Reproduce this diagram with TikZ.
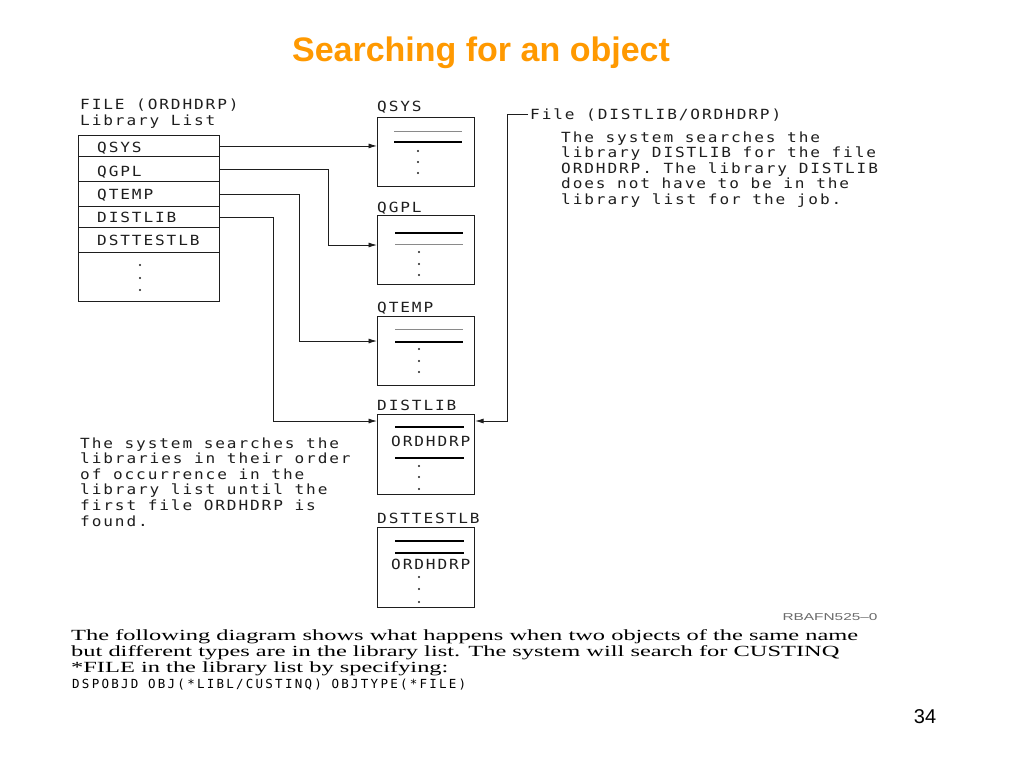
\documentclass[tikz,border=0pt]{standalone}
\usepackage{fontspec}
\usepackage{graphicx}
\setmainfont{Liberation Serif}
\newfontfamily\monof[FakeStretch=1.15,LetterSpace=13.5]{DejaVu Sans Mono}
\newfontfamily\codef[LetterSpace=18]{DejaVu Sans Mono}
\newfontfamily\sansf{Liberation Sans}
\usetikzlibrary{arrows.meta,calc}
\definecolor{ttl}{HTML}{FF9900}
\definecolor{ink}{HTML}{1E1E1E}
\definecolor{thin}{HTML}{8A8A8A}
\definecolor{tag}{HTML}{6A6A6A}
\newlength\Lw
\newsavebox\measbox
\begin{document}
\sbox\measbox{\fontsize{15.5}{16}\selectfont The following diagram shows what happens when two objects of the same name}%
\setlength\Lw{\wd\measbox}%
\pgfmathsetmacro\sx{787/\Lw}%
\begin{tikzpicture}[x=1pt,y=-1pt,
  mono/.style={font=\monof\fontsize{14}{15.6}\selectfont, text=ink, inner sep=0pt, anchor=base west},
  serifl/.style={font=\fontsize{15.5}{16}\selectfont, text=black, inner sep=0pt, anchor=base west},
  codel/.style={font=\codef\fontsize{12.5}{13}\selectfont, text=black, inner sep=0pt, anchor=base west},
  rowbox/.style={draw=ink, line width=0.9pt, minimum width=141pt, inner sep=0pt, anchor=north west},
  libbox/.style={draw=ink, line width=1.1pt, minimum width=97pt, minimum height=69pt, inner sep=0pt, anchor=north west},
  arr/.style={draw=ink, line width=0.9pt, -{Latex[length=8.5pt,width=5pt]}},
  thickrule/.style={draw=black, line width=1.6pt},
  thinrule/.style={draw=thin, line width=0.8pt},
  dotmark/.style={fill=ink},
]
\useasboundingbox[fill=white] (0,0) rectangle (1024,768);

% title
\node[font=\sansf\bfseries\fontsize{34}{40}\selectfont, text=ttl, anchor=base] (title) at (481,62) {Searching for an object};

% library list header
\node[mono] (hd1) at (80,109) {FILE (ORDHDRP)};
\node[mono] (hd2) at (80,125) {Library List};

% library list rows
\node[rowbox, minimum height=21pt] (r1) at (78,135) {};
\node[rowbox, minimum height=25pt] (r2) at (78,156) {};
\node[rowbox, minimum height=25pt] (r3) at (78,181) {};
\node[rowbox, minimum height=21pt] (r4) at (78,206) {};
\node[rowbox, minimum height=25pt] (r5) at (78,227) {};
\node[rowbox, minimum height=49pt] (r6) at (78,252) {};
\node[mono] (t1) at (97,152) {QSYS};
\node[mono] (t2) at (97,176) {QGPL};
\node[mono] (t3) at (97,199) {QTEMP};
\node[mono] (t4) at (97,222) {DISTLIB};
\node[mono] (t5) at (97,245) {DSTTESTLB};
\foreach \yy in {265,278,290} \fill[dotmark] (140,\yy) circle (1.1pt);

% library boxes
\node[libbox] (bQSYS) at (377,117) {};
\node[libbox] (bQGPL) at (377,215) {};
\node[libbox] (bQTEMP) at (377,316) {};
\node[libbox, minimum height=80pt] (bDIST) at (377,414) {};
\node[libbox, minimum height=80pt] (bDST) at (377,527) {};
\node[mono] (lQSYS) at (377,111) {QSYS};
\node[mono] (lQGPL) at (377,212) {QGPL};
\node[mono] (lQTEMP) at (377,312) {QTEMP};
\node[mono] (lDIST) at (377,410) {DISTLIB};
\node[mono] (lDST) at (377,523) {DSTTESTLB};

% contents QSYS
\draw[thinrule] (394,131) -- (462,131);
\draw[thickrule] (394,142) -- (462,142);
\foreach \yy in {151,162,173} \fill[dotmark] (418,\yy) circle (1.1pt);
% QGPL
\draw[thickrule] (395,233) -- (463,233);
\draw[thinrule] (395,244) -- (463,244);
\foreach \yy in {252,264,275} \fill[dotmark] (419,\yy) circle (1.1pt);
% QTEMP
\draw[thinrule] (395,329) -- (463,329);
\draw[thickrule] (395,342) -- (463,342);
\foreach \yy in {349,361,372} \fill[dotmark] (419,\yy) circle (1.1pt);
% DISTLIB
\draw[thickrule] (395,427) -- (464,427);
\node[mono] (oDIST) at (391,446) {ORDHDRP};
\draw[thickrule] (395,458) -- (464,458);
\foreach \yy in {466,477,489} \fill[dotmark] (419,\yy) circle (1.1pt);
% DSTTESTLB
\draw[thickrule] (395,541) -- (464,541);
\draw[thickrule] (395,553) -- (464,553);
\node[mono] (oDST) at (391,569) {ORDHDRP};
\foreach \yy in {577,589,602} \fill[dotmark] (419,\yy) circle (1.1pt);

% connectors
\draw[arr] (r1.east) -- (r1.east -| bQSYS.west);
\draw[arr] (r2.east) -| ($(bQGPL.north west)+(-49,30)$) -- ($(bQGPL.north west)+(0,30)$);
\draw[arr] (r3.east) -| ($(bQTEMP.north west)+(-78,25)$) -- ($(bQTEMP.north west)+(0,25)$);
\draw[arr] (r4.east) -| ($(bDIST.north west)+(-104,7)$) -- ($(bDIST.north west)+(0,7)$);

% right annotation
\node[mono] (tFile) at (530,119) {File (DISTLIB/ORDHDRP)};
\draw[arr, shorten <=2pt] (tFile.west) -| ($(bDIST.north east)+(32,7)$) -- ($(bDIST.north east)+(0,7)$);
\node[mono] (p1) at (561,142.0) {The system searches the};
\node[mono] (p2) at (561,157.6) {library DISTLIB for the file};
\node[mono] (p3) at (561,173.2) {ORDHDRP. The library DISTLIB};
\node[mono] (p4) at (561,188.8) {does not have to be in the};
\node[mono] (p5) at (561,204.4) {library list for the job.};

% left annotation
\node[mono] (q1) at (80,448.0) {The system searches the};
\node[mono] (q2) at (80,463.6) {libraries in their order};
\node[mono] (q3) at (80,479.2) {of occurrence in the};
\node[mono] (q4) at (80,494.8) {library list until the};
\node[mono] (q5) at (80,510.4) {first file ORDHDRP is};
\node[mono] (q6) at (80,526.0) {found.};

% figure tag
\node[font=\sansf\fontsize{10}{12}\selectfont, text=tag, inner sep=0pt] (figtag) at (830,617) {\resizebox{95pt}{\height}{RBAFN525–0}};

% bottom text
\node[serifl] (s1) at (71,640) {\scalebox{\sx}[1]{The following diagram shows what happens when two objects of the same name}};
\node[serifl] (s2) at (71,656) {\scalebox{\sx}[1]{but different types are in the library list. The system will search for CUSTINQ}};
\node[serifl] (s3) at (71,672) {\scalebox{\sx}[1]{*FILE in the library list by specifying:}};
\node[codel] (c1) at (72,688) {DSPOBJD OBJ(*LIBL/CUSTINQ) OBJTYPE(*FILE)};

% page number
\node[font=\sansf\fontsize{20}{24}\selectfont, text=black] (pg) at (925,717) {34};
\end{tikzpicture}
\end{document}
